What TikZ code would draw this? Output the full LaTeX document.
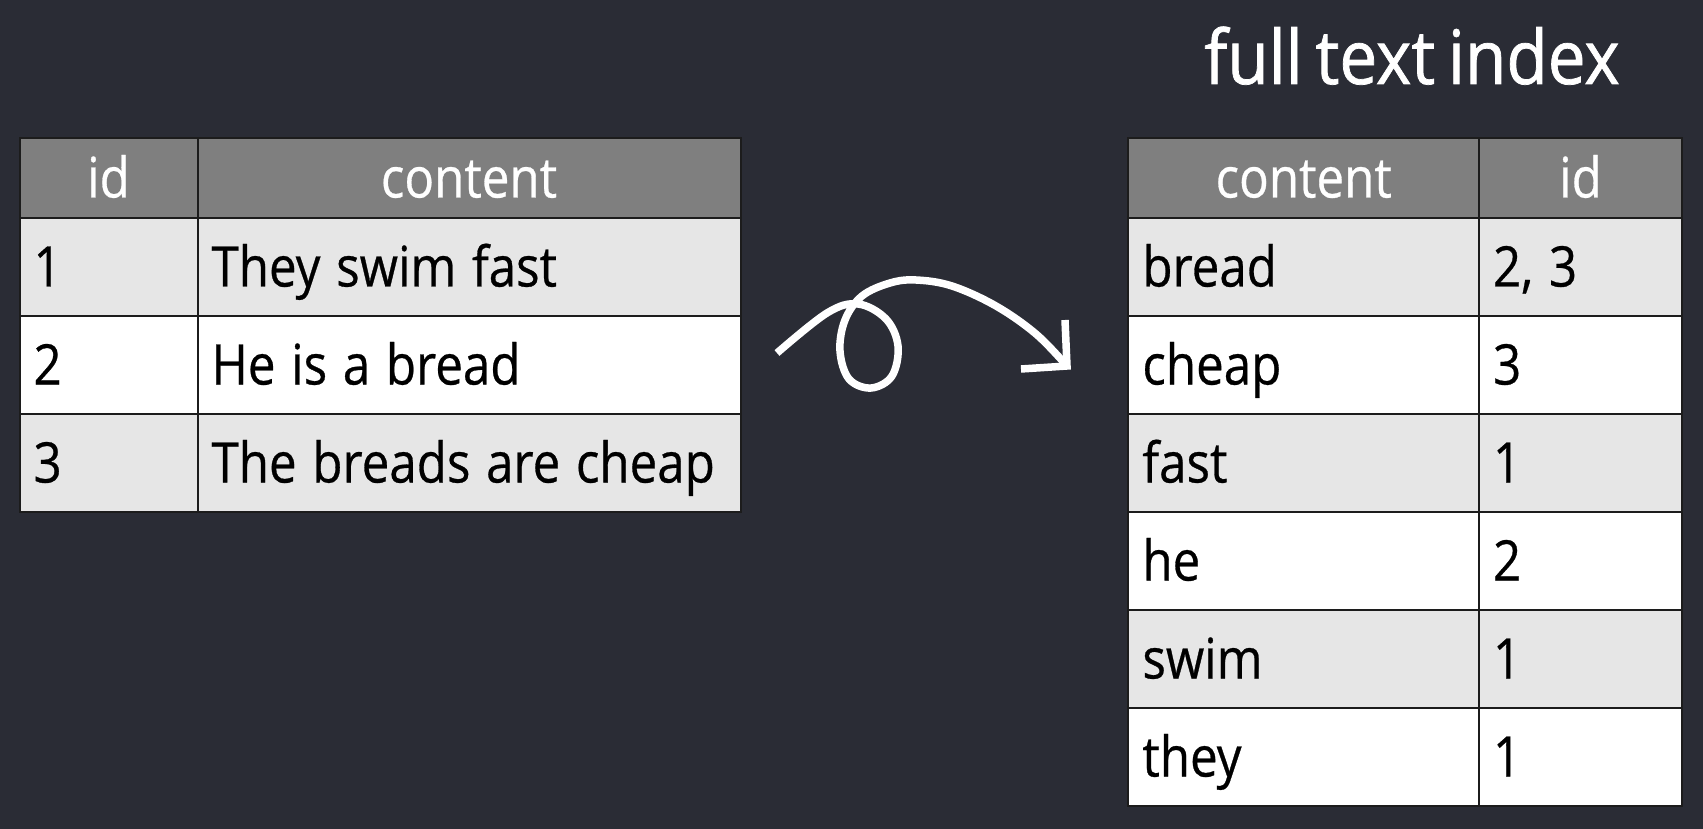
\documentclass[tikz,border=0pt]{standalone}
\usepackage{fontspec}
\setmainfont{Open Sans}[FakeStretch=0.88, FakeBold=0.5]
\newfontfamily\titlefam{Open Sans}[FakeStretch=0.9, FakeBold=1]
\newcommand\tblfont{\fontsize{56}{62}\selectfont}
\newcommand\tightspace{\spaceskip 0.28em\relax}
\newcommand\ttlfont{\titlefam\fontsize{75}{78}\selectfont\spaceskip 0.17em\relax}
\definecolor{bg}{HTML}{2A2C35}
\definecolor{headgray}{HTML}{7F7F7F}
\definecolor{rowlight}{HTML}{E6E6E6}
\definecolor{gridline}{HTML}{1C1C1C}
\tikzset{
  cellbase/.style={rectangle, draw=gridline, line width=2pt, anchor=north west,
    inner xsep=14pt, inner ysep=0pt, text height=50pt, text depth=11pt,
    font=\tblfont, execute at begin node=\tightspace},
  headcell/.style={cellbase, fill=headgray, text=white, align=center, minimum height=80pt},
  lightcell/.style={cellbase, fill=rowlight, text=black, align=left, minimum height=98pt},
  whitecell/.style={cellbase, fill=white, text=black, align=left, minimum height=98pt},
  colA/.style={minimum width=178pt, text width=150pt},
  colB/.style={minimum width=543pt, text width=515pt},
  colC/.style={minimum width=350.6pt, text width=322.6pt},
  colD/.style={minimum width=203pt, text width=175pt},
  swirl/.style={draw=white, line width=7.5pt, line cap=butt, line join=round},
  swirlhead/.style={draw=white, line width=7.5pt, line cap=butt, line join=miter},
}
\begin{document}
\begin{tikzpicture}[x=1pt, y=-1pt]
\fill[bg] (0,0) rectangle (1703,829);
\useasboundingbox (0,0) rectangle (1703,829);

% title
\node[font=\ttlfont, text=white, anchor=base, inner sep=0pt] (title) at (1412,84) {full text index};

% left table
\node[headcell, colA] (lh1) at (18.5,137) {id};
\node[headcell, colB] (lh2) at (196.5,137) {content};
\node[lightcell, colA] (l11) at (18.5,217) {1};
\node[lightcell, colB] (l12) at (196.5,217) {They swim fast};
\node[whitecell, colA] (l21) at (18.5,315) {2};
\node[whitecell, colB] (l22) at (196.5,315) {He is a bread};
\node[lightcell, colA] (l31) at (18.5,413) {3};
\node[lightcell, colB] (l32) at (196.5,413) {The breads are cheap};

% right table
\node[headcell, colC] (rh1) at (1127.4,137) {content};
\node[headcell, colD] (rh2) at (1478,137) {id};
\node[lightcell, colC] (r11) at (1127.4,217) {bread};
\node[lightcell, colD] (r12) at (1478,217) {2, 3};
\node[whitecell, colC] (r21) at (1127.4,315) {cheap};
\node[whitecell, colD] (r22) at (1478,315) {3};
\node[lightcell, colC] (r31) at (1127.4,413) {fast};
\node[lightcell, colD] (r32) at (1478,413) {1};
\node[whitecell, colC] (r41) at (1127.4,511) {he};
\node[whitecell, colD] (r42) at (1478,511) {2};
\node[lightcell, colC] (r51) at (1127.4,609) {swim};
\node[lightcell, colD] (r52) at (1478,609) {1};
\node[whitecell, colC] (r61) at (1127.4,707) {they};
\node[whitecell, colD] (r62) at (1478,707) {1};

% swirl arrow
\coordinate (s1) at (777,353);
\coordinate (s2) at (827,313);
\coordinate (s3) at (858,304);
\coordinate (s4) at (886,319);
\coordinate (s5) at (898,346);
\coordinate (s6) at (892,376);
\coordinate (s7) at (871,388);
\coordinate (s8) at (849,379);
\coordinate (s9) at (840,351);
\coordinate (s10) at (845,320);
\coordinate (s11) at (862,296);
\coordinate (s12) at (890,283);
\coordinate (s13) at (916,280);
\coordinate (s14) at (952,286);
\coordinate (s15) at (996,306);
\coordinate (s16) at (1036,334);
\coordinate (tip) at (1067,366);
\coordinate (armup) at (1065,320);
\coordinate (armleft) at (1021,369);
\draw[swirl] plot[smooth, tension=0.6] coordinates {(s1) (s2) (s3) (s4) (s5) (s6) (s7) (s8) (s9) (s10) (s11) (s12) (s13) (s14) (s15) (s16) (tip)};
\draw[swirlhead] (armup) -- (tip) -- (armleft);
\end{tikzpicture}
\end{document}
